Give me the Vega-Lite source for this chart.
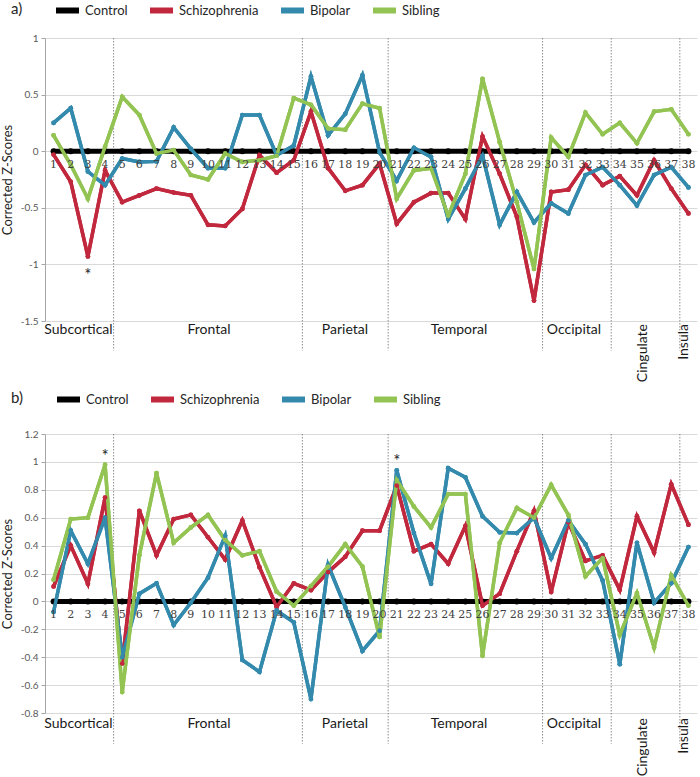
{
  "$schema": "https://vega.github.io/schema/vega-lite/v6.json",
  "padding": {"left": 1, "top": -4, "right": 0, "bottom": 0},
  "config": {
    "view": {"stroke": null},
    "font": "Lato",
    "axisY": {"domainColor": "#a6a6a6", "tickColor": "#a6a6a6", "tickSize": 4, "gridColor": "#d9d9d9",
      "labelFont": "Lato", "labelFontSize": 10, "labelColor": "#595959", "labelPadding": 3, "labelOverlap": false,
      "titleFont": "Lato", "titleFontSize": 13, "titleFontWeight": "normal", "titleColor": "#262626", "titlePadding": 6},
    "legend": {"orient": "none", "legendX": -34, "direction": "horizontal", "gridAlign": "none", "titleOrient": "left",
      "titleFont": "Lato", "titleFontSize": 15, "titleFontWeight": "normal", "titleColor": "#262626",
      "labelFont": "Lato", "labelFontSize": 13, "labelColor": "#262626", "labelOffset": 3, "columnPadding": 10,
      "symbolType": "stroke", "symbolSize": 529, "symbolStrokeWidth": 6}
  },
  "datasets": {
    "a": [
      {"x":1,"Schizophrenia":-0.03,"Bipolar":0.25,"Sibling":0.14},
      {"x":2,"Schizophrenia":-0.27,"Bipolar":0.38,"Sibling":-0.12},
      {"x":3,"Schizophrenia":-0.93,"Bipolar":-0.18,"Sibling":-0.42},
      {"x":4,"Schizophrenia":-0.17,"Bipolar":-0.30,"Sibling":0.04},
      {"x":5,"Schizophrenia":-0.45,"Bipolar":-0.065,"Sibling":0.48},
      {"x":6,"Schizophrenia":-0.39,"Bipolar":-0.095,"Sibling":0.32},
      {"x":7,"Schizophrenia":-0.33,"Bipolar":-0.09,"Sibling":-0.02},
      {"x":8,"Schizophrenia":-0.365,"Bipolar":0.21,"Sibling":0.01},
      {"x":9,"Schizophrenia":-0.39,"Bipolar":0.02,"Sibling":-0.21},
      {"x":10,"Schizophrenia":-0.65,"Bipolar":-0.15,"Sibling":-0.25},
      {"x":11,"Schizophrenia":-0.66,"Bipolar":-0.15,"Sibling":-0.02},
      {"x":12,"Schizophrenia":-0.51,"Bipolar":0.32,"Sibling":-0.095},
      {"x":13,"Schizophrenia":-0.035,"Bipolar":0.32,"Sibling":-0.08},
      {"x":14,"Schizophrenia":-0.19,"Bipolar":-0.035,"Sibling":-0.04},
      {"x":15,"Schizophrenia":-0.08,"Bipolar":0.05,"Sibling":0.47},
      {"x":16,"Schizophrenia":0.35,"Bipolar":0.66,"Sibling":0.41},
      {"x":17,"Schizophrenia":-0.15,"Bipolar":0.14,"Sibling":0.2},
      {"x":18,"Schizophrenia":-0.35,"Bipolar":0.33,"Sibling":0.19},
      {"x":19,"Schizophrenia":-0.30,"Bipolar":0.67,"Sibling":0.42},
      {"x":20,"Schizophrenia":-0.11,"Bipolar":-0.01,"Sibling":0.38},
      {"x":21,"Schizophrenia":-0.64,"Bipolar":-0.26,"Sibling":-0.42},
      {"x":22,"Schizophrenia":-0.45,"Bipolar":0.03,"Sibling":-0.17},
      {"x":23,"Schizophrenia":-0.37,"Bipolar":-0.05,"Sibling":-0.15},
      {"x":24,"Schizophrenia":-0.37,"Bipolar":-0.60,"Sibling":-0.57},
      {"x":25,"Schizophrenia":-0.60,"Bipolar":-0.33,"Sibling":-0.2},
      {"x":26,"Schizophrenia":0.13,"Bipolar":-0.04,"Sibling":0.64},
      {"x":27,"Schizophrenia":-0.20,"Bipolar":-0.65,"Sibling":0.08},
      {"x":28,"Schizophrenia":-0.58,"Bipolar":-0.36,"Sibling":-0.45},
      {"x":29,"Schizophrenia":-1.32,"Bipolar":-0.63,"Sibling":-1.04},
      {"x":30,"Schizophrenia":-0.36,"Bipolar":-0.46,"Sibling":0.12},
      {"x":31,"Schizophrenia":-0.34,"Bipolar":-0.55,"Sibling":-0.05},
      {"x":32,"Schizophrenia":-0.12,"Bipolar":-0.21,"Sibling":0.34},
      {"x":33,"Schizophrenia":-0.30,"Bipolar":-0.14,"Sibling":0.15},
      {"x":34,"Schizophrenia":-0.22,"Bipolar":-0.30,"Sibling":0.25},
      {"x":35,"Schizophrenia":-0.39,"Bipolar":-0.48,"Sibling":0.07},
      {"x":36,"Schizophrenia":-0.08,"Bipolar":-0.21,"Sibling":0.35},
      {"x":37,"Schizophrenia":-0.33,"Bipolar":-0.14,"Sibling":0.37},
      {"x":38,"Schizophrenia":-0.55,"Bipolar":-0.32,"Sibling":0.15}
    ],
    "b": [
      {"x":1,"Schizophrenia":0.107,"Bipolar":-0.076,"Sibling":0.155},
      {"x":2,"Schizophrenia":0.40,"Bipolar":0.507,"Sibling":0.59},
      {"x":3,"Schizophrenia":0.126,"Bipolar":0.27,"Sibling":0.60},
      {"x":4,"Schizophrenia":0.745,"Bipolar":0.60,"Sibling":0.98},
      {"x":5,"Schizophrenia":-0.445,"Bipolar":-0.40,"Sibling":-0.65},
      {"x":6,"Schizophrenia":0.65,"Bipolar":0.055,"Sibling":0.33},
      {"x":7,"Schizophrenia":0.33,"Bipolar":0.13,"Sibling":0.92},
      {"x":8,"Schizophrenia":0.59,"Bipolar":-0.17,"Sibling":0.42},
      {"x":9,"Schizophrenia":0.62,"Bipolar":-0.01,"Sibling":0.53},
      {"x":10,"Schizophrenia":0.46,"Bipolar":0.17,"Sibling":0.62},
      {"x":11,"Schizophrenia":0.30,"Bipolar":0.47,"Sibling":0.44},
      {"x":12,"Schizophrenia":0.58,"Bipolar":-0.42,"Sibling":0.33},
      {"x":13,"Schizophrenia":0.245,"Bipolar":-0.505,"Sibling":0.36},
      {"x":14,"Schizophrenia":-0.04,"Bipolar":-0.065,"Sibling":0.07},
      {"x":15,"Schizophrenia":0.13,"Bipolar":-0.15,"Sibling":-0.03},
      {"x":16,"Schizophrenia":0.08,"Bipolar":-0.70,"Sibling":0.11},
      {"x":17,"Schizophrenia":0.21,"Bipolar":0.26,"Sibling":0.25},
      {"x":18,"Schizophrenia":0.32,"Bipolar":-0.04,"Sibling":0.41},
      {"x":19,"Schizophrenia":0.507,"Bipolar":-0.355,"Sibling":0.25},
      {"x":20,"Schizophrenia":0.507,"Bipolar":-0.21,"Sibling":-0.255},
      {"x":21,"Schizophrenia":0.83,"Bipolar":0.94,"Sibling":0.87},
      {"x":22,"Schizophrenia":0.36,"Bipolar":0.49,"Sibling":0.68},
      {"x":23,"Schizophrenia":0.41,"Bipolar":0.126,"Sibling":0.53},
      {"x":24,"Schizophrenia":0.27,"Bipolar":0.955,"Sibling":0.77},
      {"x":25,"Schizophrenia":0.54,"Bipolar":0.89,"Sibling":0.77},
      {"x":26,"Schizophrenia":-0.03,"Bipolar":0.61,"Sibling":-0.39},
      {"x":27,"Schizophrenia":0.055,"Bipolar":0.495,"Sibling":0.42},
      {"x":28,"Schizophrenia":0.36,"Bipolar":0.49,"Sibling":0.67},
      {"x":29,"Schizophrenia":0.65,"Bipolar":0.60,"Sibling":0.60},
      {"x":30,"Schizophrenia":0.067,"Bipolar":0.31,"Sibling":0.835},
      {"x":31,"Schizophrenia":0.567,"Bipolar":0.58,"Sibling":0.62},
      {"x":32,"Schizophrenia":0.29,"Bipolar":0.41,"Sibling":0.18},
      {"x":33,"Schizophrenia":0.33,"Bipolar":0.15,"Sibling":0.31},
      {"x":34,"Schizophrenia":0.083,"Bipolar":-0.45,"Sibling":-0.24},
      {"x":35,"Schizophrenia":0.61,"Bipolar":0.42,"Sibling":0.06},
      {"x":36,"Schizophrenia":0.35,"Bipolar":-0.01,"Sibling":-0.33},
      {"x":37,"Schizophrenia":0.84,"Bipolar":0.13,"Sibling":0.186},
      {"x":38,"Schizophrenia":0.55,"Bipolar":0.39,"Sibling":-0.03}
    ],
    "seps": [{"b":4.5},{"b":15.5},{"b":20.5},{"b":29.5},{"b":33.5},{"b":37.5}],
    "regions": [
      {"r":"Subcortical","m":2.45},
      {"r":"Frontal","m":10.06},
      {"r":"Parietal","m":17.98},
      {"r":"Temporal","m":24.63},
      {"r":"Occipital","m":31.33}
    ],
    "regionsRot": [
      {"r":"Cingulate","m":35.35},
      {"r":"Insula","m":37.74}
    ],
    "starA": [{"x":3,"y":-1.07}],
    "starB": [{"x":4,"y":1.066},{"x":21,"y":1.03}]
  },
  "vconcat": [
    {
      "width": 652,
      "height": 283,
      "layer": [
        {
          "data": {"name": "a"},
          "transform": [{"fold": ["Schizophrenia", "Bipolar", "Sibling"], "as": ["series", "z"]}],
          "mark": {"type": "line", "strokeWidth": 3.5, "point": {"filled": true, "size": 22}},
          "encoding": {
            "x": {"field": "x", "type": "quantitative", "scale": {"domain": [0.5, 38.5], "nice": false, "zero": false}, "axis": null},
            "y": {"field": "z", "type": "quantitative", "scale": {"domain": [-1.5, 1], "nice": false, "zero": false},
              "axis": {"values": [-1.5, -1, -0.5, 0, 0.5, 1], "labelExpr": "toString(datum.value)", "title": "Corrected Z-Scores", "labelOverlap": false}},
            "color": {"field": "series", "type": "nominal",
              "scale": {"domain": ["Control", "Schizophrenia", "Bipolar", "Sibling"], "range": ["#000000", "#c1283d", "#338aad", "#93c453"]},
              "legend": {"legendY": -42, "title": "a)", "titlePadding": 30}}
          }
        },
        {
          "data": {"name": "seps"},
          "mark": {"type": "rule", "strokeDash": [1.5, 1.5], "color": "#8c8c8c", "strokeWidth": 1},
          "encoding": {
            "x": {"field": "b", "type": "quantitative", "scale": {"domain": [0.5, 38.5], "nice": false, "zero": false}, "axis": null},
            "y": {"datum": 1, "type": "quantitative", "scale": {"domain": [-1.5, 1], "nice": false, "zero": false},
              "axis": {"values": [-1.5, -1, -0.5, 0, 0.5, 1], "labelExpr": "toString(datum.value)", "title": "Corrected Z-Scores", "labelOverlap": false}},
            "y2": {"datum": -1.76}
          }
        },
        {
          "data": {"name": "a"},
          "mark": {"type": "line", "strokeWidth": 5, "point": {"filled": true, "size": 36, "color": "#000000"}},
          "encoding": {
            "x": {"field": "x", "type": "quantitative", "scale": {"domain": [0.5, 38.5], "nice": false, "zero": false}, "axis": null},
            "y": {"datum": 0, "type": "quantitative", "scale": {"domain": [-1.5, 1], "nice": false, "zero": false},
              "axis": {"values": [-1.5, -1, -0.5, 0, 0.5, 1], "labelExpr": "toString(datum.value)", "title": "Corrected Z-Scores", "labelOverlap": false}},
            "color": {"datum": "Control", "type": "nominal",
              "scale": {"domain": ["Control", "Schizophrenia", "Bipolar", "Sibling"], "range": ["#000000", "#c1283d", "#338aad", "#93c453"]},
              "legend": {"legendY": -42, "title": "a)", "titlePadding": 30}}
          }
        },
        {
          "data": {"name": "a"},
          "transform": [{"fold": ["Schizophrenia", "Bipolar", "Sibling"], "as": ["series", "z"]}],
          "mark": {"type": "line", "strokeWidth": 3.5, "point": {"filled": true, "size": 22}},
          "encoding": {
            "x": {"field": "x", "type": "quantitative", "scale": {"domain": [0.5, 38.5], "nice": false, "zero": false}, "axis": null},
            "y": {"field": "z", "type": "quantitative", "scale": {"domain": [-1.5, 1], "nice": false, "zero": false},
              "axis": {"values": [-1.5, -1, -0.5, 0, 0.5, 1], "labelExpr": "toString(datum.value)", "title": "Corrected Z-Scores", "labelOverlap": false}},
            "color": {"field": "series", "type": "nominal",
              "scale": {"domain": ["Control", "Schizophrenia", "Bipolar", "Sibling"], "range": ["#000000", "#c1283d", "#338aad", "#93c453"]},
              "legend": {"legendY": -42, "title": "a)", "titlePadding": 30}}
          }
        },
        {
          "data": {"name": "a"},
          "mark": {"type": "text", "dy": 14, "font": "DejaVu Serif", "fontSize": 11, "color": "#404040"},
          "encoding": {
            "x": {"field": "x", "type": "quantitative", "scale": {"domain": [0.5, 38.5], "nice": false, "zero": false}, "axis": null},
            "y": {"datum": 0, "type": "quantitative", "scale": {"domain": [-1.5, 1], "nice": false, "zero": false},
              "axis": {"values": [-1.5, -1, -0.5, 0, 0.5, 1], "labelExpr": "toString(datum.value)", "title": "Corrected Z-Scores", "labelOverlap": false}},
            "text": {"field": "x", "type": "quantitative"}
          }
        },
        {
          "data": {"name": "regions"},
          "mark": {"type": "text", "baseline": "top", "dy": 2, "font": "Lato", "fontSize": 14, "color": "#1a1a1a"},
          "encoding": {
            "x": {"field": "m", "type": "quantitative", "scale": {"domain": [0.5, 38.5], "nice": false, "zero": false}, "axis": null},
            "y": {"datum": -1.5, "type": "quantitative", "scale": {"domain": [-1.5, 1], "nice": false, "zero": false},
              "axis": {"values": [-1.5, -1, -0.5, 0, 0.5, 1], "labelExpr": "toString(datum.value)", "title": "Corrected Z-Scores", "labelOverlap": false}},
            "text": {"field": "r"}
          }
        },
        {
          "data": {"name": "regionsRot"},
          "mark": {"type": "text", "angle": 270, "align": "right", "baseline": "middle", "dx": -3, "font": "Lato", "fontSize": 14, "color": "#1a1a1a"},
          "encoding": {
            "x": {"field": "m", "type": "quantitative", "scale": {"domain": [0.5, 38.5], "nice": false, "zero": false}, "axis": null},
            "y": {"datum": -1.5, "type": "quantitative", "scale": {"domain": [-1.5, 1], "nice": false, "zero": false},
              "axis": {"values": [-1.5, -1, -0.5, 0, 0.5, 1], "labelExpr": "toString(datum.value)", "title": "Corrected Z-Scores", "labelOverlap": false}},
            "text": {"field": "r"}
          }
        },
        {
          "data": {"name": "starA"},
          "mark": {"type": "text", "text": "*", "baseline": "middle", "dy": 4, "font": "Lato", "fontSize": 17, "color": "#262626"},
          "encoding": {
            "x": {"field": "x", "type": "quantitative", "scale": {"domain": [0.5, 38.5], "nice": false, "zero": false}, "axis": null},
            "y": {"field": "y", "type": "quantitative", "scale": {"domain": [-1.5, 1], "nice": false, "zero": false},
              "axis": {"values": [-1.5, -1, -0.5, 0, 0.5, 1], "labelExpr": "toString(datum.value)", "title": "Corrected Z-Scores", "labelOverlap": false}}
          }
        }
      ]
    },
    {
      "width": 652,
      "height": 279,
      "layer": [
        {
          "data": {"name": "b"},
          "transform": [{"fold": ["Schizophrenia", "Bipolar", "Sibling"], "as": ["series", "z"]}],
          "mark": {"type": "line", "strokeWidth": 3.5, "point": {"filled": true, "size": 22}},
          "encoding": {
            "x": {"field": "x", "type": "quantitative", "scale": {"domain": [0.5, 38.5], "nice": false, "zero": false}, "axis": null},
            "y": {"field": "z", "type": "quantitative", "scale": {"domain": [-0.8, 1.2], "nice": false, "zero": false},
              "axis": {"values": [-0.8, -0.6, -0.4, -0.2, 0, 0.2, 0.4, 0.6, 0.8, 1, 1.2], "labelExpr": "toString(datum.value)", "title": "Corrected Z-Scores", "labelOverlap": false}},
            "color": {"field": "series", "type": "nominal",
              "scale": {"domain": ["Control", "Schizophrenia", "Bipolar", "Sibling"], "range": ["#000000", "#c1283d", "#338aad", "#93c453"]},
              "legend": {"legendY": -49, "title": "b)", "titlePadding": 31}}
          }
        },
        {
          "data": {"name": "seps"},
          "mark": {"type": "rule", "strokeDash": [1.5, 1.5], "color": "#8c8c8c", "strokeWidth": 1},
          "encoding": {
            "x": {"field": "b", "type": "quantitative", "scale": {"domain": [0.5, 38.5], "nice": false, "zero": false}, "axis": null},
            "y": {"datum": 1.2, "type": "quantitative", "scale": {"domain": [-0.8, 1.2], "nice": false, "zero": false},
              "axis": {"values": [-0.8, -0.6, -0.4, -0.2, 0, 0.2, 0.4, 0.6, 0.8, 1, 1.2], "labelExpr": "toString(datum.value)", "title": "Corrected Z-Scores", "labelOverlap": false}},
            "y2": {"datum": -1.02}
          }
        },
        {
          "data": {"name": "b"},
          "mark": {"type": "line", "strokeWidth": 5, "point": {"filled": true, "size": 36, "color": "#000000"}},
          "encoding": {
            "x": {"field": "x", "type": "quantitative", "scale": {"domain": [0.5, 38.5], "nice": false, "zero": false}, "axis": null},
            "y": {"datum": 0, "type": "quantitative", "scale": {"domain": [-0.8, 1.2], "nice": false, "zero": false},
              "axis": {"values": [-0.8, -0.6, -0.4, -0.2, 0, 0.2, 0.4, 0.6, 0.8, 1, 1.2], "labelExpr": "toString(datum.value)", "title": "Corrected Z-Scores", "labelOverlap": false}},
            "color": {"datum": "Control", "type": "nominal",
              "scale": {"domain": ["Control", "Schizophrenia", "Bipolar", "Sibling"], "range": ["#000000", "#c1283d", "#338aad", "#93c453"]},
              "legend": {"legendY": -49, "title": "b)", "titlePadding": 31}}
          }
        },
        {
          "data": {"name": "b"},
          "transform": [{"fold": ["Schizophrenia", "Bipolar", "Sibling"], "as": ["series", "z"]}],
          "mark": {"type": "line", "strokeWidth": 3.5, "point": {"filled": true, "size": 22}},
          "encoding": {
            "x": {"field": "x", "type": "quantitative", "scale": {"domain": [0.5, 38.5], "nice": false, "zero": false}, "axis": null},
            "y": {"field": "z", "type": "quantitative", "scale": {"domain": [-0.8, 1.2], "nice": false, "zero": false},
              "axis": {"values": [-0.8, -0.6, -0.4, -0.2, 0, 0.2, 0.4, 0.6, 0.8, 1, 1.2], "labelExpr": "toString(datum.value)", "title": "Corrected Z-Scores", "labelOverlap": false}},
            "color": {"field": "series", "type": "nominal",
              "scale": {"domain": ["Control", "Schizophrenia", "Bipolar", "Sibling"], "range": ["#000000", "#c1283d", "#338aad", "#93c453"]},
              "legend": {"legendY": -49, "title": "b)", "titlePadding": 31}}
          }
        },
        {
          "data": {"name": "b"},
          "mark": {"type": "text", "dy": 14, "font": "DejaVu Serif", "fontSize": 11, "color": "#404040"},
          "encoding": {
            "x": {"field": "x", "type": "quantitative", "scale": {"domain": [0.5, 38.5], "nice": false, "zero": false}, "axis": null},
            "y": {"datum": 0, "type": "quantitative", "scale": {"domain": [-0.8, 1.2], "nice": false, "zero": false},
              "axis": {"values": [-0.8, -0.6, -0.4, -0.2, 0, 0.2, 0.4, 0.6, 0.8, 1, 1.2], "labelExpr": "toString(datum.value)", "title": "Corrected Z-Scores", "labelOverlap": false}},
            "text": {"field": "x", "type": "quantitative"}
          }
        },
        {
          "data": {"name": "regions"},
          "mark": {"type": "text", "baseline": "top", "dy": 4, "font": "Lato", "fontSize": 14, "color": "#1a1a1a"},
          "encoding": {
            "x": {"field": "m", "type": "quantitative", "scale": {"domain": [0.5, 38.5], "nice": false, "zero": false}, "axis": null},
            "y": {"datum": -0.8, "type": "quantitative", "scale": {"domain": [-0.8, 1.2], "nice": false, "zero": false},
              "axis": {"values": [-0.8, -0.6, -0.4, -0.2, 0, 0.2, 0.4, 0.6, 0.8, 1, 1.2], "labelExpr": "toString(datum.value)", "title": "Corrected Z-Scores", "labelOverlap": false}},
            "text": {"field": "r"}
          }
        },
        {
          "data": {"name": "regionsRot"},
          "mark": {"type": "text", "angle": 270, "align": "right", "baseline": "middle", "dx": -5, "font": "Lato", "fontSize": 14, "color": "#1a1a1a"},
          "encoding": {
            "x": {"field": "m", "type": "quantitative", "scale": {"domain": [0.5, 38.5], "nice": false, "zero": false}, "axis": null},
            "y": {"datum": -0.8, "type": "quantitative", "scale": {"domain": [-0.8, 1.2], "nice": false, "zero": false},
              "axis": {"values": [-0.8, -0.6, -0.4, -0.2, 0, 0.2, 0.4, 0.6, 0.8, 1, 1.2], "labelExpr": "toString(datum.value)", "title": "Corrected Z-Scores", "labelOverlap": false}},
            "text": {"field": "r"}
          }
        },
        {
          "data": {"name": "starB"},
          "mark": {"type": "text", "text": "*", "baseline": "middle", "dy": 4, "font": "Lato", "fontSize": 17, "color": "#262626"},
          "encoding": {
            "x": {"field": "x", "type": "quantitative", "scale": {"domain": [0.5, 38.5], "nice": false, "zero": false}, "axis": null},
            "y": {"field": "y", "type": "quantitative", "scale": {"domain": [-0.8, 1.2], "nice": false, "zero": false},
              "axis": {"values": [-0.8, -0.6, -0.4, -0.2, 0, 0.2, 0.4, 0.6, 0.8, 1, 1.2], "labelExpr": "toString(datum.value)", "title": "Corrected Z-Scores", "labelOverlap": false}}
          }
        }
      ]
    }
  ],
  "spacing": 113,
  "bounds": "flush",
  "resolve": {"scale": {"color": "independent"}, "legend": {"color": "independent"}}
}
